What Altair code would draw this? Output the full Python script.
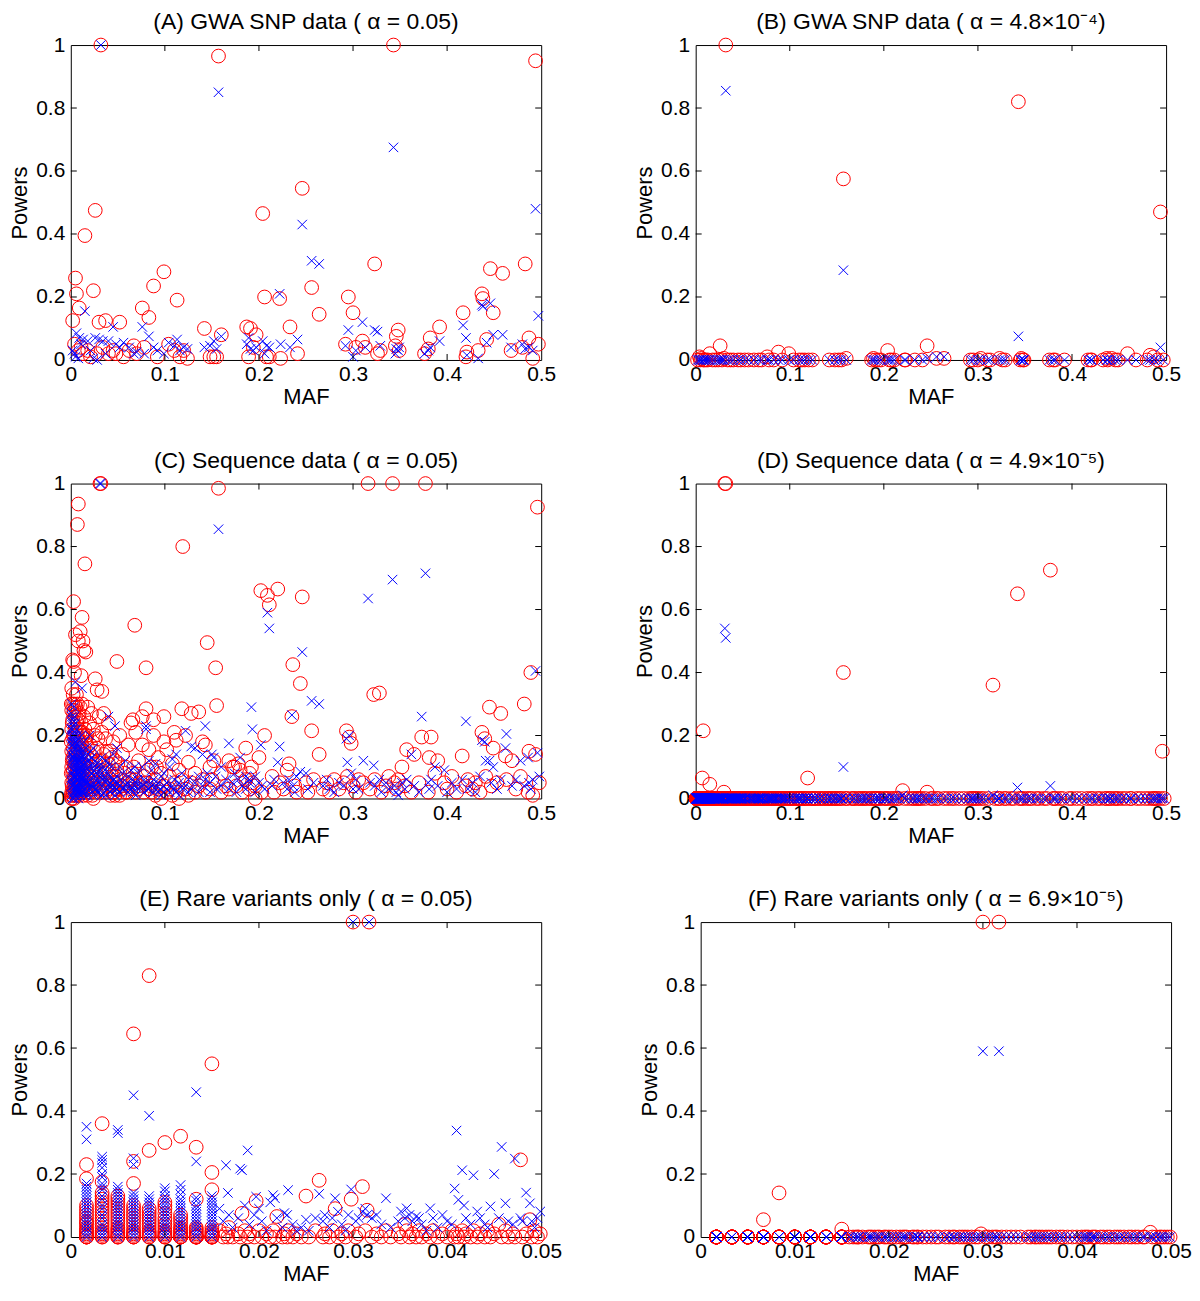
import altair as alt
import pandas as pd

RED = "#ff0000"
BLUE = "#0000ff"
FONT = "Liberation Sans"

# ---------------- data ----------------
# GWA SNP data: (MAF, A circle, A cross, B circle, B cross)
GWA_ROWS = [
    (0.002, 0.125, 0.03, 0, 0), (0.004, 0.05, 0.02, 0.01, 0), (0.005, 0.26, 0.01, 0, 0),
    (0.006, 0.21, 0.085, 0.005, 0), (0.008, 0.03, 0.005, 0, 0), (0.009, 0.165, 0.07, 0, 0),
    (0.011, 0.04, 0.05, 0, 0), (0.013, 0.02, 0.065, 0, 0), (0.015, 0.395, 0.155, 0.02, 0),
    (0.018, 0.03, 0.06, 0, 0), (0.021, 0.01, 0.03, 0, 0), (0.024, 0.22, 0.005, 0, 0),
    (0.026, 0.475, 0.07, 0.045, 0), (0.028, 0.02, 0.0, 0, 0), (0.030, 0.12, 0.065, 0.005, 0),
    (0.032, 1.0, 1.0, 1.0, 0.855), (0.034, 0.04, 0.06, 0, 0), (0.037, 0.125, 0.02, 0, 0),
    (0.040, 0.02, 0.06, 0, 0), (0.045, 0.03, 0.105, 0, 0), (0.048, 0.02, 0.05, 0, 0),
    (0.052, 0.12, 0.04, 0, 0), (0.056, 0.01, 0.055, 0, 0), (0.062, 0.03, 0.04, 0, 0),
    (0.067, 0.045, 0.02, 0, 0), (0.070, 0.02, 0.025, 0, 0), (0.076, 0.165, 0.105, 0.01, 0),
    (0.078, 0.04, 0.02, 0, 0), (0.083, 0.135, 0.075, 0, 0), (0.088, 0.235, 0.04, 0.025, 0),
    (0.092, 0.01, 0.03, 0, 0), (0.099, 0.28, 0.02, 0.02, 0), (0.104, 0.05, 0.055, 0, 0),
    (0.110, 0.03, 0.045, 0, 0), (0.113, 0.19, 0.065, 0, 0), (0.116, 0.01, 0.03, 0, 0),
    (0.120, 0.03, 0.04, 0, 0), (0.124, 0.005, 0.035, 0, 0), (0.142, 0.1, 0.04, 0, 0),
    (0.148, 0.01, 0.045, 0, 0), (0.152, 0.01, 0.06, 0, 0), (0.155, 0.01, 0.035, 0, 0),
    (0.157, 0.965, 0.85, 0.575, 0.285), (0.160, 0.08, 0.075, 0.005, 0), (0.187, 0.105, 0.05, 0, 0),
    (0.189, 0.01, 0.07, 0.005, 0), (0.191, 0.1, 0.035, 0, 0), (0.194, 0.04, 0.03, 0, 0),
    (0.197, 0.08, 0.04, 0, 0), (0.204, 0.465, 0.06, 0.03, 0), (0.206, 0.2, 0.02, 0, 0),
    (0.208, 0.01, 0.045, 0, 0), (0.211, 0.01, 0.04, 0, 0), (0.222, 0.195, 0.21, 0, 0),
    (0.223, 0.005, 0.05, 0, 0), (0.233, 0.105, 0.04, 0, 0), (0.241, 0.02, 0.065, 0, 0),
    (0.246, 0.545, 0.43, 0.045, 0.005), (0.256, 0.23, 0.315, 0.005, 0.01),
    (0.264, 0.145, 0.305, 0.005, 0.01), (0.292, 0.05, 0.045, 0, 0), (0.295, 0.2, 0.095, 0, 0),
    (0.300, 0.15, 0.01, 0, 0), (0.303, 0.04, 0.03, 0.005, 0), (0.310, 0.06, 0.12, 0, 0),
    (0.313, 0.04, 0.04, 0, 0), (0.323, 0.305, 0.095, 0.005, 0), (0.326, 0.02, 0.09, 0, 0),
    (0.329, 0.03, 0.045, 0, 0), (0.343, 1.0, 0.675, 0.82, 0.075), (0.345, 0.045, 0.02, 0, 0),
    (0.346, 0.075, 0.035, 0.005, 0), (0.348, 0.095, 0.03, 0, 0), (0.349, 0.03, 0.04, 0, 0),
    (0.376, 0.02, 0.02, 0, 0), (0.380, 0.035, 0.03, 0, 0), (0.382, 0.07, 0.04, 0, 0),
    (0.392, 0.105, 0.06, 0, 0), (0.417, 0.15, 0.11, 0, 0), (0.420, 0.01, 0.07, 0, 0),
    (0.421, 0.025, 0.015, 0, 0), (0.433, 0.03, 0.005, 0, 0), (0.437, 0.21, 0.175, 0.005, 0),
    (0.438, 0.195, 0.17, 0, 0), (0.442, 0.065, 0.055, 0.005, 0), (0.446, 0.29, 0.18, 0, 0),
    (0.449, 0.15, 0.08, 0, 0), (0.459, 0.275, 0.08, 0.02, 0), (0.468, 0.03, 0.04, 0, 0),
    (0.480, 0.04, 0.05, 0, 0), (0.483, 0.305, 0.035, 0.015, 0), (0.487, 0.07, 0.04, 0.01, 0),
    (0.491, 0.005, 0.03, 0, 0), (0.494, 0.95, 0.48, 0.47, 0.04), (0.497, 0.05, 0.14, 0, 0),
]

# Sequence data: (MAF, C circle, C cross, D circle, D cross)
SEQ_ROWS = [
    (0.0005, 0.30, 0.27, 0, 0), (0.0005, 0.18, 0.22, 0, 0), (0.0005, 0.08, 0.14, 0, 0), (0.0005, 0.01, 0.06, 0, 0),
    (0.001, 0.35, 0.30, 0, 0), (0.001, 0.28, 0.26, 0, 0), (0.001, 0.22, 0.20, 0, 0), (0.001, 0.15, 0.17, 0, 0),
    (0.001, 0.10, 0.12, 0, 0), (0.001, 0.05, 0.08, 0, 0), (0.001, 0.02, 0.04, 0, 0), (0.001, 0.0, 0.01, 0, 0),
    (0.0015, 0.24, 0.24, 0, 0), (0.0015, 0.12, 0.19, 0, 0), (0.0015, 0.04, 0.13, 0, 0), (0.0015, 0.0, 0.05, 0, 0),
    (0.002, 0.44, 0.25, 0, 0), (0.002, 0.30, 0.22, 0, 0), (0.002, 0.25, 0.18, 0, 0), (0.002, 0.19, 0.15, 0, 0),
    (0.002, 0.13, 0.11, 0, 0), (0.002, 0.08, 0.07, 0, 0), (0.002, 0.03, 0.03, 0, 0), (0.002, 0.01, 0.0, 0, 0),
    (0.0025, 0.33, 0.23, 0, 0), (0.0025, 0.16, 0.17, 0, 0), (0.0025, 0.09, 0.09, 0, 0), (0.0025, 0.02, 0.04, 0, 0),
    (0.003, 0.625, 0.29, 0, 0), (0.003, 0.435, 0.20, 0, 0), (0.003, 0.27, 0.16, 0, 0), (0.003, 0.20, 0.13, 0, 0),
    (0.003, 0.12, 0.10, 0, 0), (0.003, 0.06, 0.06, 0, 0), (0.003, 0.02, 0.02, 0, 0),
    (0.0035, 0.28, 0.19, 0, 0), (0.0035, 0.11, 0.12, 0, 0), (0.0035, 0.04, 0.07, 0, 0), (0.0035, 0.0, 0.0, 0, 0),
    (0.004, 0.40, 0.26, 0, 0), (0.004, 0.30, 0.21, 0, 0), (0.004, 0.20, 0.14, 0, 0), (0.004, 0.14, 0.09, 0, 0),
    (0.004, 0.07, 0.05, 0, 0), (0.004, 0.03, 0.01, 0, 0),
    (0.0045, 0.22, 0.20, 0, 0), (0.0045, 0.10, 0.11, 0, 0), (0.0045, 0.03, 0.03, 0, 0),
    (0.005, 0.52, 0.37, 0, 0), (0.005, 0.26, 0.24, 0, 0), (0.005, 0.18, 0.17, 0, 0), (0.005, 0.11, 0.12, 0, 0),
    (0.005, 0.06, 0.07, 0, 0), (0.005, 0.01, 0.03, 0, 0),
    (0.0055, 0.29, 0.18, 0, 0), (0.0055, 0.14, 0.09, 0, 0), (0.0055, 0.05, 0.04, 0, 0),
    (0.006, 0.33, 0.22, 0, 0), (0.006, 0.22, 0.16, 0, 0), (0.006, 0.15, 0.10, 0, 0), (0.006, 0.08, 0.06, 0, 0),
    (0.006, 0.03, 0.02, 0, 0),
    (0.0065, 0.24, 0.13, 0, 0), (0.0065, 0.10, 0.07, 0, 0), (0.0065, 0.01, 0.03, 0, 0),
    (0.007, 0.87, 0.20, 0.065, 0), (0.007, 0.30, 0.15, 0, 0), (0.007, 0.20, 0.11, 0, 0), (0.007, 0.12, 0.08, 0, 0),
    (0.007, 0.05, 0.04, 0, 0), (0.007, 0.02, 0.01, 0, 0),
    (0.0075, 0.19, 0.17, 0, 0), (0.0075, 0.09, 0.09, 0, 0), (0.0075, 0.03, 0.02, 0, 0),
    (0.008, 0.935, 0.19, 0.215, 0), (0.008, 0.50, 0.14, 0, 0), (0.008, 0.25, 0.09, 0, 0), (0.008, 0.16, 0.06, 0, 0),
    (0.008, 0.08, 0.03, 0, 0), (0.008, 0.02, 0.0, 0, 0),
    (0.0085, 0.22, 0.12, 0, 0), (0.0085, 0.07, 0.05, 0, 0),
    (0.009, 0.27, 0.18, 0, 0), (0.009, 0.18, 0.12, 0, 0), (0.009, 0.10, 0.08, 0, 0), (0.009, 0.05, 0.05, 0, 0),
    (0.009, 0.01, 0.02, 0, 0),
    (0.0095, 0.16, 0.15, 0, 0), (0.0095, 0.04, 0.07, 0, 0),
    (0.010, 0.53, 0.16, 0, 0), (0.010, 0.29, 0.13, 0, 0), (0.010, 0.21, 0.10, 0, 0), (0.010, 0.12, 0.07, 0, 0),
    (0.010, 0.06, 0.04, 0, 0), (0.010, 0.02, 0.01, 0, 0),
    (0.0105, 0.18, 0.11, 0, 0), (0.0105, 0.03, 0.03, 0, 0),
    (0.011, 0.39, 0.20, 0, 0), (0.011, 0.24, 0.14, 0, 0), (0.011, 0.14, 0.09, 0, 0), (0.011, 0.07, 0.05, 0, 0),
    (0.011, 0.02, 0.02, 0, 0),
    (0.0115, 0.10, 0.13, 0, 0), (0.0115, 0.02, 0.06, 0, 0),
    (0.012, 0.575, 0.35, 0, 0), (0.012, 0.30, 0.15, 0, 0), (0.012, 0.17, 0.10, 0, 0), (0.012, 0.09, 0.06, 0, 0),
    (0.012, 0.03, 0.02, 0, 0),
    (0.0125, 0.21, 0.09, 0, 0), (0.0125, 0.06, 0.04, 0, 0),
    (0.013, 0.50, 0.12, 0, 0), (0.013, 0.20, 0.08, 0, 0), (0.013, 0.11, 0.05, 0, 0), (0.013, 0.04, 0.02, 0, 0),
    (0.0135, 0.15, 0.14, 0, 0), (0.0135, 0.01, 0.07, 0, 0),
    (0.014, 0.47, 0.18, 0, 0), (0.014, 0.26, 0.11, 0, 0), (0.014, 0.13, 0.07, 0, 0), (0.014, 0.05, 0.03, 0, 0),
    (0.015, 0.745, 0.13, 0.045, 0), (0.015, 0.22, 0.09, 0, 0), (0.015, 0.10, 0.05, 0, 0), (0.015, 0.03, 0.01, 0, 0),
    (0.016, 0.465, 0.16, 0, 0), (0.016, 0.19, 0.10, 0, 0), (0.016, 0.08, 0.06, 0, 0), (0.016, 0.02, 0.02, 0, 0),
    (0.017, 0.20, 0.12, 0, 0), (0.017, 0.05, 0.05, 0, 0),
    (0.018, 0.29, 0.14, 0, 0), (0.018, 0.16, 0.09, 0, 0), (0.018, 0.07, 0.05, 0, 0), (0.018, 0.01, 0.01, 0, 0),
    (0.019, 0.10, 0.10, 0, 0), (0.019, 0.03, 0.04, 0, 0),
    (0.020, 0.24, 0.20, 0, 0), (0.020, 0.14, 0.12, 0, 0), (0.020, 0.06, 0.07, 0, 0), (0.020, 0.02, 0.03, 0, 0),
    (0.021, 0.17, 0.15, 0, 0), (0.021, 0.07, 0.06, 0, 0),
    (0.022, 0.27, 0.13, 0, 0), (0.022, 0.12, 0.08, 0, 0), (0.022, 0.04, 0.04, 0, 0),
    (0.023, 0.09, 0.11, 0, 0), (0.023, 0.01, 0.02, 0, 0),
    (0.024, 0.22, 0.16, 0, 0), (0.024, 0.10, 0.10, 0, 0), (0.024, 0.03, 0.05, 0, 0), (0.024, 0.0, 0.01, 0, 0),
    (0.025, 0.15, 0.09, 0, 0), (0.025, 0.05, 0.04, 0, 0),
    (0.026, 0.38, 0.12, 0, 0), (0.026, 0.20, 0.07, 0, 0), (0.026, 0.08, 0.03, 0, 0),
    (0.027, 0.11, 0.08, 0, 0), (0.027, 0.02, 0.03, 0, 0),
    (0.028, 0.345, 0.11, 0, 0), (0.028, 0.16, 0.06, 0, 0), (0.028, 0.05, 0.02, 0, 0),
    (0.029, 0.19, 0.10, 0, 0), (0.029, 0.06, 0.05, 0, 0),
    (0.030, 0.26, 0.09, 0, 0), (0.030, 0.12, 0.05, 0, 0), (0.030, 0.03, 0.02, 0.02, 0),
    (0.031, 1.0, 1.0, 1.0, 0.54), (0.032, 1.0, 1.0, 1.0, 0.51),
    (0.033, 0.34, 0.13, 0, 0), (0.033, 0.21, 0.08, 0, 0), (0.033, 0.09, 0.04, 0, 0), (0.033, 0.02, 0.01, 0, 0),
    (0.034, 0.12, 0.07, 0, 0),
    (0.035, 0.27, 0.10, 0, 0), (0.035, 0.14, 0.06, 0, 0), (0.035, 0.05, 0.02, 0, 0),
    (0.036, 0.06, 0.09, 0, 0),
    (0.037, 0.19, 0.12, 0, 0), (0.037, 0.08, 0.05, 0, 0), (0.037, 0.02, 0.01, 0, 0),
    (0.038, 0.15, 0.06, 0, 0), (0.039, 0.03, 0.03, 0, 0),
    (0.040, 0.24, 0.26, 0, 0), (0.040, 0.11, 0.08, 0, 0), (0.040, 0.04, 0.04, 0, 0),
    (0.041, 0.09, 0.07, 0, 0),
    (0.042, 0.15, 0.11, 0, 0), (0.042, 0.06, 0.05, 0, 0), (0.042, 0.01, 0.02, 0, 0),
    (0.043, 0.04, 0.10, 0, 0), (0.044, 0.13, 0.04, 0, 0),
    (0.045, 0.18, 0.14, 0, 0), (0.045, 0.07, 0.06, 0, 0), (0.045, 0.02, 0.03, 0, 0),
    (0.046, 0.02, 0.06, 0, 0),
    (0.047, 0.12, 0.23, 0, 0), (0.047, 0.05, 0.05, 0, 0), (0.047, 0.01, 0.01, 0, 0),
    (0.048, 0.07, 0.03, 0, 0),
    (0.049, 0.435, 0.16, 0, 0), (0.049, 0.09, 0.07, 0, 0), (0.049, 0.03, 0.03, 0, 0),
    (0.050, 0.11, 0.05, 0, 0),
    (0.052, 0.20, 0.10, 0, 0), (0.052, 0.06, 0.04, 0, 0), (0.052, 0.01, 0.02, 0, 0),
    (0.053, 0.03, 0.06, 0, 0),
    (0.055, 0.14, 0.08, 0, 0), (0.055, 0.04, 0.03, 0, 0), (0.057, 0.08, 0.03, 0, 0),
    (0.058, 0.10, 0.12, 0, 0), (0.058, 0.02, 0.04, 0, 0), (0.060, 0.02, 0.05, 0, 0),
    (0.061, 0.17, 0.07, 0, 0), (0.061, 0.05, 0.02, 0, 0), (0.063, 0.06, 0.04, 0, 0),
    (0.064, 0.24, 0.09, 0, 0), (0.064, 0.03, 0.03, 0, 0),
    (0.066, 0.25, 0.06, 0, 0), (0.066, 0.08, 0.02, 0, 0), (0.067, 0.10, 0.03, 0, 0),
    (0.068, 0.55, 0.10, 0, 0), (0.068, 0.06, 0.04, 0, 0),
    (0.069, 0.21, 0.05, 0, 0), (0.069, 0.02, 0.01, 0, 0), (0.071, 0.03, 0.06, 0, 0),
    (0.072, 0.12, 0.08, 0, 0), (0.072, 0.04, 0.03, 0, 0), (0.074, 0.05, 0.04, 0, 0),
    (0.076, 0.26, 0.04, 0, 0), (0.076, 0.17, 0.10, 0, 0), (0.078, 0.07, 0.06, 0, 0), (0.078, 0.02, 0.02, 0, 0),
    (0.080, 0.415, 0.23, 0, 0), (0.080, 0.285, 0.22, 0, 0), (0.080, 0.05, 0.05, 0, 0),
    (0.082, 0.09, 0.03, 0, 0),
    (0.083, 0.155, 0.12, 0, 0), (0.083, 0.03, 0.03, 0, 0), (0.085, 0.04, 0.05, 0, 0),
    (0.086, 0.10, 0.09, 0, 0), (0.086, 0.02, 0.04, 0, 0),
    (0.088, 0.25, 0.06, 0, 0), (0.088, 0.20, 0.02, 0, 0), (0.090, 0.06, 0.11, 0, 0), (0.090, 0.01, 0.03, 0, 0),
    (0.091, 0.10, 0.04, 0, 0),
    (0.093, 0.13, 0.05, 0, 0), (0.093, 0.03, 0.02, 0, 0), (0.095, 0.02, 0.03, 0, 0),
    (0.096, 0.08, 0.07, 0, 0), (0.096, 0.0, 0.01, 0, 0),
    (0.099, 0.26, 0.04, 0, 0), (0.099, 0.18, 0.08, 0, 0), (0.099, 0.04, 0.02, 0, 0),
    (0.102, 0.155, 0.05, 0, 0), (0.102, 0.02, 0.03, 0, 0), (0.105, 0.07, 0.10, 0, 0), (0.105, 0.03, 0.02, 0, 0),
    (0.108, 0.11, 0.125, 0, 0), (0.108, 0.01, 0.04, 0, 0), (0.110, 0.21, 0.06, 0, 0), (0.110, 0.05, 0.03, 0, 0),
    (0.112, 0.185, 0.14, 0, 0), (0.112, 0.02, 0.02, 0, 0), (0.115, 0.09, 0.05, 0, 0), (0.115, 0.0, 0.01, 0, 0),
    (0.118, 0.285, 0.04, 0, 0), (0.118, 0.06, 0.08, 0, 0), (0.119, 0.80, 0.03, 0.065, 0),
    (0.122, 0.20, 0.215, 0, 0), (0.122, 0.03, 0.04, 0, 0), (0.125, 0.115, 0.06, 0, 0), (0.125, 0.01, 0.02, 0, 0),
    (0.128, 0.27, 0.165, 0, 0), (0.128, 0.05, 0.03, 0, 0), (0.132, 0.08, 0.16, 0, 0), (0.132, 0.02, 0.05, 0, 0),
    (0.136, 0.275, 0.07, 0, 0), (0.136, 0.04, 0.02, 0, 0), (0.140, 0.18, 0.14, 0, 0), (0.140, 0.06, 0.04, 0, 0),
    (0.143, 0.17, 0.23, 0, 0), (0.143, 0.02, 0.06, 0, 0), (0.145, 0.495, 0.08, 0, 0),
    (0.148, 0.10, 0.05, 0, 0), (0.148, 0.03, 0.02, 0, 0), (0.150, 0.06, 0.14, 0, 0), (0.152, 0.12, 0.13, 0, 0),
    (0.154, 0.415, 0.07, 0, 0), (0.155, 0.295, 0.03, 0, 0), (0.157, 0.985, 0.855, 0.40, 0.10),
    (0.160, 0.08, 0.10, 0, 0), (0.160, 0.02, 0.04, 0, 0), (0.165, 0.04, 0.06, 0, 0),
    (0.168, 0.12, 0.175, 0, 0), (0.168, 0.03, 0.03, 0, 0), (0.172, 0.10, 0.05, 0, 0),
    (0.174, 0.10, 0.08, 0, 0), (0.176, 0.04, 0.02, 0, 0), (0.178, 0.11, 0.06, 0, 0),
    (0.180, 0.09, 0.13, 0, 0), (0.182, 0.02, 0.04, 0, 0), (0.186, 0.16, 0.07, 0, 0), (0.186, 0.06, 0.03, 0, 0),
    (0.190, 0.08, 0.05, 0, 0), (0.190, 0.03, 0.06, 0, 0), (0.192, 0.10, 0.29, 0, 0), (0.193, 0.05, 0.22, 0, 0),
    (0.196, 0.04, 0.07, 0, 0), (0.196, 0.0, 0.02, 0, 0), (0.200, 0.13, 0.05, 0, 0),
    (0.202, 0.66, 0.17, 0, 0), (0.203, 0.02, 0.04, 0, 0), (0.206, 0.20, 0.03, 0, 0),
    (0.209, 0.645, 0.59, 0, 0), (0.211, 0.615, 0.54, 0, 0), (0.214, 0.07, 0.04, 0, 0), (0.216, 0.02, 0.06, 0, 0),
    (0.220, 0.665, 0.115, 0.025, 0.01), (0.222, 0.05, 0.165, 0, 0), (0.226, 0.03, 0.05, 0, 0),
    (0.230, 0.09, 0.03, 0, 0), (0.232, 0.11, 0.06, 0, 0), (0.235, 0.26, 0.265, 0, 0), (0.236, 0.425, 0.04, 0, 0),
    (0.238, 0.04, 0.02, 0, 0), (0.240, 0.02, 0.07, 0, 0), (0.244, 0.365, 0.085, 0, 0),
    (0.246, 0.64, 0.465, 0.02, 0), (0.250, 0.05, 0.08, 0, 0), (0.252, 0.02, 0.03, 0, 0),
    (0.256, 0.215, 0.31, 0, 0), (0.258, 0.06, 0.05, 0, 0), (0.264, 0.14, 0.30, 0, 0), (0.268, 0.03, 0.04, 0, 0),
    (0.272, 0.05, 0.06, 0, 0), (0.275, 0.02, 0.03, 0, 0), (0.280, 0.06, 0.02, 0, 0), (0.285, 0.03, 0.05, 0, 0),
    (0.290, 0.05, 0.04, 0, 0), (0.293, 0.215, 0.19, 0, 0), (0.294, 0.07, 0.115, 0, 0), (0.296, 0.195, 0.20, 0, 0),
    (0.298, 0.175, 0.08, 0, 0), (0.300, 0.04, 0.03, 0, 0), (0.303, 0.02, 0.06, 0, 0), (0.306, 0.06, 0.03, 0, 0),
    (0.311, 0.05, 0.12, 0, 0), (0.316, 1.0, 0.635, 0.36, 0.01), (0.318, 0.03, 0.05, 0, 0),
    (0.322, 0.33, 0.105, 0, 0), (0.323, 0.06, 0.04, 0, 0), (0.328, 0.335, 0.06, 0, 0), (0.330, 0.02, 0.02, 0, 0),
    (0.335, 0.04, 0.05, 0, 0), (0.338, 0.07, 0.03, 0, 0), (0.342, 1.0, 0.695, 0.65, 0.035),
    (0.344, 0.05, 0.04, 0, 0), (0.346, 0.03, 0.02, 0, 0), (0.348, 0.06, 0.01, 0, 0),
    (0.352, 0.10, 0.05, 0, 0), (0.355, 0.04, 0.03, 0, 0), (0.357, 0.155, 0.06, 0, 0),
    (0.362, 0.02, 0.14, 0, 0), (0.365, 0.14, 0.04, 0, 0), (0.370, 0.05, 0.02, 0, 0), (0.373, 0.195, 0.26, 0, 0),
    (0.377, 1.0, 0.715, 0.725, 0.04), (0.380, 0.02, 0.05, 0, 0), (0.381, 0.13, 0.03, 0, 0),
    (0.383, 0.195, 0.06, 0, 0), (0.387, 0.08, 0.10, 0, 0), (0.390, 0.12, 0.04, 0, 0),
    (0.397, 0.05, 0.09, 0, 0), (0.400, 0.03, 0.02, 0, 0), (0.405, 0.07, 0.05, 0, 0), (0.410, 0.02, 0.03, 0, 0),
    (0.416, 0.135, 0.06, 0, 0), (0.420, 0.04, 0.245, 0, 0), (0.422, 0.06, 0.03, 0, 0),
    (0.427, 0.03, 0.05, 0, 0), (0.430, 0.05, 0.02, 0, 0), (0.435, 0.02, 0.07, 0, 0),
    (0.437, 0.21, 0.185, 0, 0), (0.440, 0.19, 0.18, 0, 0), (0.441, 0.07, 0.12, 0, 0),
    (0.445, 0.29, 0.12, 0, 0), (0.447, 0.04, 0.05, 0, 0), (0.449, 0.16, 0.10, 0, 0), (0.453, 0.05, 0.03, 0, 0),
    (0.457, 0.27, 0.06, 0, 0), (0.462, 0.135, 0.16, 0, 0), (0.463, 0.06, 0.205, 0, 0), (0.469, 0.12, 0.04, 0, 0),
    (0.473, 0.03, 0.06, 0, 0), (0.478, 0.07, 0.12, 0, 0), (0.482, 0.30, 0.04, 0, 0),
    (0.486, 0.02, 0.13, 0, 0), (0.487, 0.15, 0.05, 0, 0), (0.489, 0.40, 0.03, 0, 0), (0.491, 0.01, 0.06, 0, 0),
    (0.494, 0.14, 0.405, 0, 0), (0.496, 0.925, 0.145, 0.15, 0), (0.498, 0.05, 0.07, 0, 0),
]

# Rare variants: (MAF, E circle, E cross, F circle, F cross)
RARE_ROWS = [
    # MAF = 1/600
    (0.00167, 0.23, 0.35, 0, 0), (0.00167, 0.185, 0.31, 0, 0), (0.00167, 0.10, 0.17, 0, 0),
    (0.00167, 0.09, 0.16, 0, 0), (0.00167, 0.08, 0.15, 0, 0), (0.00167, 0.07, 0.14, 0, 0),
    (0.00167, 0.06, 0.13, 0, 0), (0.00167, 0.05, 0.12, 0, 0), (0.00167, 0.045, 0.11, 0, 0),
    (0.00167, 0.04, 0.10, 0, 0), (0.00167, 0.03, 0.09, 0, 0), (0.00167, 0.025, 0.08, 0, 0),
    (0.00167, 0.02, 0.07, 0, 0), (0.00167, 0.015, 0.06, 0, 0), (0.00167, 0.01, 0.05, 0, 0),
    (0.00167, 0.005, 0.04, 0, 0), (0.00167, 0.0, 0.03, 0, 0), (0.00167, 0.0, 0.02, 0, 0),
    (0.00167, 0.0, 0.01, 0, 0), (0.00167, 0.0, 0.0, 0, 0),
    # MAF = 2/600
    (0.00333, 0.36, 0.255, 0, 0), (0.00333, 0.175, 0.245, 0, 0), (0.00333, 0.14, 0.235, 0, 0),
    (0.00333, 0.13, 0.22, 0, 0), (0.00333, 0.12, 0.20, 0, 0), (0.00333, 0.11, 0.19, 0, 0),
    (0.00333, 0.10, 0.17, 0, 0), (0.00333, 0.09, 0.16, 0, 0), (0.00333, 0.08, 0.15, 0, 0),
    (0.00333, 0.07, 0.13, 0, 0), (0.00333, 0.06, 0.12, 0, 0), (0.00333, 0.05, 0.10, 0, 0),
    (0.00333, 0.04, 0.09, 0, 0), (0.00333, 0.03, 0.07, 0, 0), (0.00333, 0.02, 0.06, 0, 0),
    (0.00333, 0.015, 0.04, 0, 0), (0.00333, 0.01, 0.03, 0, 0), (0.00333, 0.005, 0.02, 0, 0),
    (0.00333, 0.0, 0.01, 0, 0), (0.00333, 0.0, 0.0, 0, 0),
    # MAF = 3/600
    (0.005, 0.13, 0.34, 0, 0), (0.005, 0.12, 0.33, 0, 0), (0.005, 0.11, 0.16, 0, 0),
    (0.005, 0.10, 0.15, 0, 0), (0.005, 0.09, 0.14, 0, 0), (0.005, 0.08, 0.13, 0, 0),
    (0.005, 0.07, 0.12, 0, 0), (0.005, 0.06, 0.11, 0, 0), (0.005, 0.05, 0.10, 0, 0),
    (0.005, 0.04, 0.09, 0, 0), (0.005, 0.03, 0.08, 0, 0), (0.005, 0.025, 0.07, 0, 0),
    (0.005, 0.02, 0.06, 0, 0), (0.005, 0.015, 0.05, 0, 0), (0.005, 0.01, 0.04, 0, 0),
    (0.005, 0.005, 0.03, 0, 0), (0.005, 0.0, 0.02, 0, 0), (0.005, 0.0, 0.01, 0, 0), (0.005, 0.0, 0.0, 0, 0),
    # MAF = 4/600
    (0.00667, 0.645, 0.45, 0.055, 0), (0.00667, 0.24, 0.25, 0, 0), (0.00667, 0.17, 0.23, 0, 0),
    (0.00667, 0.10, 0.14, 0, 0), (0.00667, 0.09, 0.13, 0, 0), (0.00667, 0.08, 0.12, 0, 0),
    (0.00667, 0.07, 0.11, 0, 0), (0.00667, 0.06, 0.10, 0, 0), (0.00667, 0.05, 0.09, 0, 0),
    (0.00667, 0.04, 0.08, 0, 0), (0.00667, 0.03, 0.07, 0, 0), (0.00667, 0.02, 0.06, 0, 0),
    (0.00667, 0.015, 0.05, 0, 0), (0.00667, 0.01, 0.04, 0, 0), (0.00667, 0.005, 0.03, 0, 0),
    (0.00667, 0.0, 0.02, 0, 0), (0.00667, 0.0, 0.01, 0, 0), (0.00667, 0.0, 0.0, 0, 0),
    # MAF = 5/600
    (0.00833, 0.83, 0.385, 0.14, 0), (0.00833, 0.275, 0.13, 0, 0), (0.00833, 0.09, 0.12, 0, 0),
    (0.00833, 0.08, 0.11, 0, 0), (0.00833, 0.07, 0.10, 0, 0), (0.00833, 0.06, 0.09, 0, 0),
    (0.00833, 0.05, 0.08, 0, 0), (0.00833, 0.04, 0.07, 0, 0), (0.00833, 0.03, 0.06, 0, 0),
    (0.00833, 0.02, 0.05, 0, 0), (0.00833, 0.015, 0.04, 0, 0), (0.00833, 0.01, 0.03, 0, 0),
    (0.00833, 0.005, 0.02, 0, 0), (0.00833, 0.0, 0.01, 0, 0), (0.00833, 0.0, 0.0, 0, 0),
    # MAF = 6/600
    (0.010, 0.30, 0.155, 0, 0), (0.010, 0.11, 0.145, 0, 0), (0.010, 0.10, 0.13, 0, 0),
    (0.010, 0.09, 0.12, 0, 0), (0.010, 0.075, 0.11, 0, 0), (0.010, 0.06, 0.10, 0, 0),
    (0.010, 0.05, 0.09, 0, 0), (0.010, 0.04, 0.08, 0, 0), (0.010, 0.03, 0.07, 0, 0),
    (0.010, 0.02, 0.06, 0, 0), (0.010, 0.015, 0.05, 0, 0), (0.010, 0.01, 0.04, 0, 0),
    (0.010, 0.005, 0.03, 0, 0), (0.010, 0.0, 0.02, 0, 0), (0.010, 0.0, 0.01, 0, 0), (0.010, 0.0, 0.0, 0, 0),
    # MAF = 7/600
    (0.01167, 0.32, 0.165, 0, 0), (0.01167, 0.07, 0.15, 0, 0), (0.01167, 0.06, 0.135, 0, 0),
    (0.01167, 0.05, 0.12, 0, 0), (0.01167, 0.04, 0.11, 0, 0), (0.01167, 0.03, 0.10, 0, 0),
    (0.01167, 0.025, 0.09, 0, 0), (0.01167, 0.02, 0.08, 0, 0), (0.01167, 0.015, 0.07, 0, 0),
    (0.01167, 0.01, 0.06, 0, 0), (0.01167, 0.005, 0.05, 0, 0), (0.01167, 0.0, 0.04, 0, 0),
    (0.01167, 0.0, 0.03, 0, 0), (0.01167, 0.0, 0.02, 0, 0), (0.01167, 0.0, 0.01, 0, 0), (0.01167, 0.0, 0.0, 0, 0),
    # MAF = 8/600
    (0.01333, 0.285, 0.46, 0, 0), (0.01333, 0.12, 0.24, 0, 0), (0.01333, 0.03, 0.125, 0, 0),
    (0.01333, 0.025, 0.115, 0, 0), (0.01333, 0.02, 0.10, 0, 0), (0.01333, 0.015, 0.09, 0, 0),
    (0.01333, 0.01, 0.08, 0, 0), (0.01333, 0.005, 0.07, 0, 0), (0.01333, 0.0, 0.06, 0, 0),
    (0.01333, 0.0, 0.05, 0, 0), (0.01333, 0.0, 0.04, 0, 0), (0.01333, 0.0, 0.03, 0, 0),
    (0.01333, 0.0, 0.02, 0, 0), (0.01333, 0.0, 0.01, 0, 0), (0.01333, 0.0, 0.0, 0, 0),
    # MAF = 9/600
    (0.015, 0.55, 0.13, 0.025, 0), (0.015, 0.205, 0.12, 0, 0), (0.015, 0.15, 0.11, 0, 0),
    (0.015, 0.03, 0.10, 0, 0), (0.015, 0.02, 0.09, 0, 0), (0.015, 0.015, 0.08, 0, 0),
    (0.015, 0.01, 0.07, 0, 0), (0.015, 0.005, 0.06, 0, 0), (0.015, 0.0, 0.05, 0, 0),
    (0.015, 0.0, 0.04, 0, 0), (0.015, 0.0, 0.03, 0, 0), (0.015, 0.0, 0.02, 0, 0),
    (0.015, 0.0, 0.01, 0, 0), (0.015, 0.0, 0.0, 0, 0),
    # scattered above 0.015
    (0.0158, 0.02, 0.09, 0, 0), (0.0162, 0.0, 0.05, 0, 0), (0.0165, 0.01, 0.228, 0, 0), (0.0167, 0.0, 0.14, 0, 0),
    (0.0168, 0.03, 0.07, 0, 0), (0.0172, 0.0, 0.03, 0, 0), (0.0178, 0.01, 0.06, 0, 0), (0.0180, 0.0, 0.217, 0, 0),
    (0.0182, 0.075, 0.212, 0, 0), (0.0185, 0.02, 0.10, 0, 0), (0.0188, 0.0, 0.275, 0, 0), (0.0190, 0.01, 0.04, 0, 0),
    (0.0195, 0.0, 0.07, 0, 0), (0.0197, 0.115, 0.128, 0, 0), (0.0200, 0.02, 0.09, 0, 0), (0.0203, 0.0, 0.05, 0, 0),
    (0.0208, 0.01, 0.02, 0, 0), (0.0212, 0.0, 0.11, 0, 0), (0.0215, 0.02, 0.133, 0, 0), (0.0217, 0.0, 0.123, 0, 0),
    (0.0219, 0.065, 0.06, 0, 0), (0.0225, 0.0, 0.03, 0, 0), (0.0227, 0.01, 0.076, 0, 0), (0.0230, 0.0, 0.07, 0, 0),
    (0.0231, 0.02, 0.149, 0, 0), (0.0236, 0.0, 0.04, 0, 0), (0.0240, 0.01, 0.02, 0, 0), (0.0245, 0.0, 0.03, 0, 0),
    (0.0250, 0.13, 0.055, 0, 0), (0.0253, 0.0, 0.02, 0, 0), (0.0260, 0.02, 0.06, 0, 0), (0.0264, 0.18, 0.137, 0, 0),
    (0.0268, 0.0, 0.05, 0, 0), (0.0270, 0.01, 0.07, 0, 0), (0.0275, 0.0, 0.03, 0, 0), (0.0278, 0.02, 0.06, 0, 0),
    (0.0281, 0.09, 0.123, 0, 0), (0.0284, 0.0, 0.08, 0, 0), (0.0288, 0.01, 0.04, 0, 0), (0.0292, 0.0, 0.02, 0, 0),
    (0.0295, 0.02, 0.07, 0, 0), (0.0298, 0.12, 0.151, 0.01, 0), (0.0300, 1.0, 1.0, 1.0, 0.59),
    (0.0303, 0.0, 0.05, 0, 0), (0.0306, 0.01, 0.06, 0, 0), (0.0310, 0.16, 0.08, 0, 0), (0.0313, 0.02, 0.09, 0, 0),
    (0.0315, 0.085, 0.07, 0, 0), (0.0317, 1.0, 1.0, 1.0, 0.59), (0.0320, 0.0, 0.06, 0, 0),
    (0.0325, 0.01, 0.07, 0, 0), (0.0330, 0.0, 0.04, 0, 0), (0.0335, 0.02, 0.123, 0, 0), (0.0340, 0.0, 0.03, 0, 0),
    (0.0348, 0.01, 0.05, 0, 0), (0.0351, 0.0, 0.081, 0, 0), (0.0355, 0.04, 0.06, 0, 0), (0.0357, 0.02, 0.091, 0, 0),
    (0.0360, 0.0, 0.07, 0, 0), (0.0363, 0.01, 0.05, 0, 0), (0.0367, 0.0, 0.065, 0, 0), (0.0370, 0.02, 0.06, 0, 0),
    (0.0373, 0.0, 0.04, 0, 0), (0.0378, 0.01, 0.02, 0, 0), (0.0382, 0.0, 0.091, 0, 0), (0.0385, 0.02, 0.06, 0, 0),
    (0.0390, 0.0, 0.03, 0, 0), (0.0395, 0.01, 0.07, 0, 0), (0.0400, 0.0, 0.05, 0, 0), (0.0405, 0.02, 0.04, 0, 0),
    (0.0408, 0.0, 0.154, 0, 0), (0.0410, 0.01, 0.338, 0, 0), (0.0412, 0.0, 0.118, 0, 0), (0.0416, 0.02, 0.212, 0, 0),
    (0.0418, 0.0, 0.10, 0, 0), (0.0420, 0.01, 0.06, 0, 0), (0.0425, 0.0, 0.04, 0, 0), (0.0428, 0.02, 0.196, 0, 0),
    (0.0432, 0.0, 0.081, 0, 0), (0.0435, 0.01, 0.06, 0, 0), (0.0440, 0.0, 0.04, 0, 0), (0.0443, 0.02, 0.03, 0, 0),
    (0.0446, 0.0, 0.097, 0, 0), (0.0450, 0.01, 0.20, 0, 0), (0.0455, 0.04, 0.06, 0, 0), (0.0458, 0.0, 0.286, 0, 0),
    (0.0462, 0.02, 0.107, 0, 0), (0.0465, 0.0, 0.05, 0, 0), (0.0470, 0.01, 0.04, 0, 0), (0.0472, 0.0, 0.249, 0, 0),
    (0.0478, 0.245, 0.06, 0.015, 0), (0.0480, 0.0, 0.05, 0, 0), (0.0484, 0.01, 0.141, 0, 0),
    (0.0488, 0.055, 0.107, 0, 0), (0.0490, 0.0, 0.05, 0, 0), (0.0493, 0.02, 0.03, 0, 0),
    (0.0496, 0.0, 0.06, 0, 0), (0.0499, 0.01, 0.081, 0, 0),
]

TITLES = [
    "(A) GWA SNP data ( \u03b1 = 0.05)",
    "(B) GWA SNP data ( \u03b1 = 4.8\u00d710\u207b\u2074)",
    "(C) Sequence data ( \u03b1 = 0.05)",
    "(D) Sequence data ( \u03b1 = 4.9\u00d710\u207b\u2075)",
    "(E) Rare variants only ( \u03b1 = 0.05)",
    "(F) Rare variants only ( \u03b1 = 6.9\u00d710\u207b\u2075)",
]
X_TICKS_WIDE = [0, 0.1, 0.2, 0.3, 0.4, 0.5]
X_TICKS_RARE = [0, 0.01, 0.02, 0.03, 0.04, 0.05]
Y_TICKS = [0, 0.2, 0.4, 0.6, 0.8, 1]

W, H = 472, 316
CROSS = "M-1,-1L1,1M-1,1L1,-1"
AX = dict(labelFont=FONT, titleFont=FONT, labelFontSize=21, titleFontSize=22,
          labelColor="black", titleColor="black", titleFontWeight="normal",
          ticks=False, domain=False, grid=False)


def panel(rows, circ_idx, cross_idx, title, xmax, xticks):
    df = pd.DataFrame({
        "maf": [r[0] for r in rows],
        "circ": [r[circ_idx] for r in rows],
        "cross": [r[cross_idx] for r in rows],
    })
    xs = alt.Scale(domain=[0, xmax], nice=False, zero=False)
    ys = alt.Scale(domain=[0, 1], nice=False)
    xaxis = alt.Axis(values=xticks, format="~g", title="MAF", labelFlush=False, labelOverlap=False,
                     labelPadding=4, titlePadding=2, **AX)
    yaxis = alt.Axis(values=Y_TICKS, format="~g", title="Powers", labelPadding=6, titlePadding=4, **AX)
    base = alt.Chart(df)
    circles = base.mark_point(shape="circle", filled=False, color=RED, size=190, strokeWidth=1, opacity=1).encode(
        x=alt.X("maf:Q", scale=xs, axis=xaxis),
        y=alt.Y("circ:Q", scale=ys, axis=yaxis),
    )
    crosses = base.mark_point(shape=CROSS, filled=False, color=BLUE, size=90, strokeWidth=1, opacity=1).encode(
        x=alt.X("maf:Q", scale=xs, axis=xaxis),
        y=alt.Y("cross:Q", scale=ys, axis=yaxis),
    )
    xt = alt.Chart(pd.DataFrame({"t": xticks[1:-1]}))
    yt = alt.Chart(pd.DataFrame({"t": Y_TICKS[1:-1]}))
    tick_x_bottom = xt.mark_rule(color="black", strokeWidth=1).encode(
        x=alt.X("t:Q", scale=xs), y=alt.value(H), y2=alt.value(H - 6))
    tick_x_top = xt.mark_rule(color="black", strokeWidth=1).encode(
        x=alt.X("t:Q", scale=xs), y=alt.value(0), y2=alt.value(6))
    tick_y_left = yt.mark_rule(color="black", strokeWidth=1).encode(
        y=alt.Y("t:Q", scale=ys), x=alt.value(0), x2=alt.value(6))
    tick_y_right = yt.mark_rule(color="black", strokeWidth=1).encode(
        y=alt.Y("t:Q", scale=ys), x=alt.value(W), x2=alt.value(W - 6))
    return alt.layer(circles, crosses, tick_x_bottom, tick_x_top, tick_y_left, tick_y_right).properties(
        width=W, height=H,
        title=alt.TitleParams(title, fontSize=23, font=FONT, fontWeight="normal", anchor="middle",
                              offset=0, color="black"),
    )


pA = panel(GWA_ROWS, 1, 2, TITLES[0], 0.5, X_TICKS_WIDE)
pB = panel(GWA_ROWS, 3, 4, TITLES[1], 0.5, X_TICKS_WIDE)
pC = panel(SEQ_ROWS, 1, 2, TITLES[2], 0.5, X_TICKS_WIDE)
pD = panel(SEQ_ROWS, 3, 4, TITLES[3], 0.5, X_TICKS_WIDE)
pE = panel(RARE_ROWS, 1, 2, TITLES[4], 0.05, X_TICKS_RARE)
pF = panel(RARE_ROWS, 3, 4, TITLES[5], 0.05, X_TICKS_RARE)

HS = 76
chart = alt.vconcat(
    alt.hconcat(pA, pB, spacing=HS),
    alt.hconcat(pC, pD, spacing=HS),
    alt.hconcat(pE, pF, spacing=HS),
    spacing=40,
).configure(background="white", padding=0).configure_view(stroke="black", strokeWidth=1)

chart.save("out.html", embed_options={"renderer": "svg", "actions": False})
